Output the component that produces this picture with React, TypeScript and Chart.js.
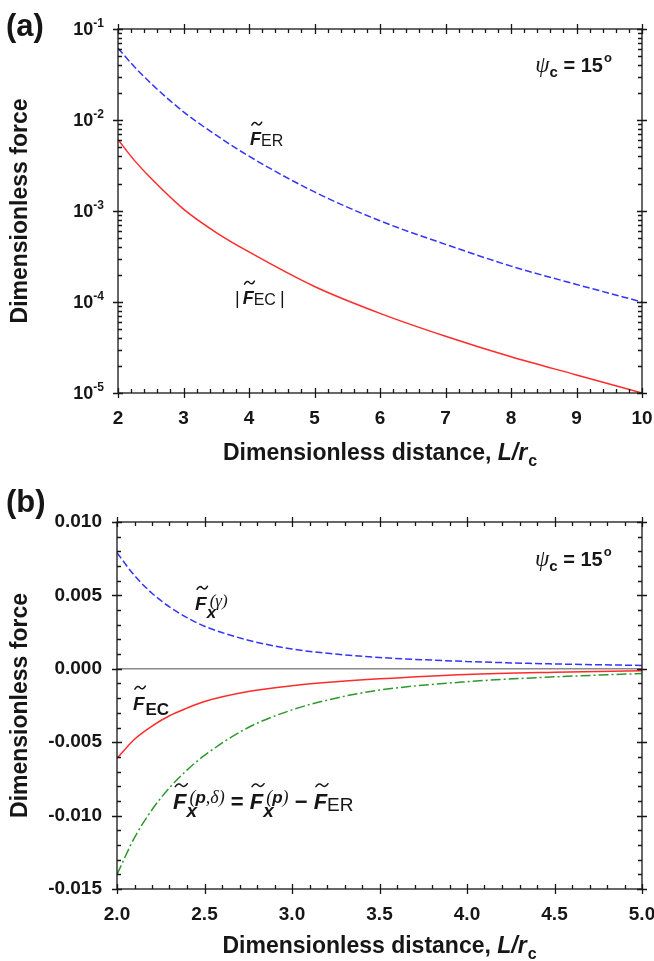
import React, { useEffect, useRef } from 'react';
import { Chart, registerables } from 'chart.js';

Chart.register(...registerables);

const SANS = '"Liberation Sans", Arial, Helvetica, sans-serif';
const SERIF = '"Liberation Serif", "Times New Roman", serif';
const INK = '#161616';
const BLUE = '#3434ff';
const RED = '#ff2b2b';
const GREEN = '#2e982e';
const GRAY = '#8a8a8a';

// ---------- Panel (a) data ----------
const distanceA = [2, 2.25, 2.5, 3, 3.5, 4, 5, 6, 7, 8, 9, 10];
const forceER_A = [0.0614, 0.0385, 0.0254, 0.0123, 0.0068, 0.004, 0.00162, 0.00078, 0.00043, 0.000248, 0.000156, 0.0001];
const forceEC_A = [0.0061, 0.0036, 0.0023, 0.00105, 0.00058, 0.000355, 0.000148, 0.000075, 0.000042, 0.000025, 0.0000158, 0.00001];
const xTicksA = [2, 3, 4, 5, 6, 7, 8, 9, 10];
const yTicksA = [1e-5, 1e-4, 1e-3, 1e-2, 1e-1];
const yTickExpA = ['-5', '-4', '-3', '-2', '-1'];

// ---------- Panel (b) data ----------
const distanceB = [2.0, 2.1, 2.2, 2.3, 2.4, 2.5, 2.75, 3.0, 3.25, 3.5, 4.0, 4.5, 5.0];
const forceGammaB = [0.0079, 0.00635, 0.00515, 0.00422, 0.00349, 0.0029, 0.00195, 0.00135, 0.001, 0.00077, 0.0005, 0.00033, 0.00023];
const forceEC_B = [-0.0061, -0.0048, -0.0039, -0.0032, -0.00268, -0.00223, -0.00155, -0.00115, -0.00088, -0.00068, -0.00038, -0.00023, -0.00013];
const forcePDelta_B = [-0.014, -0.0115, -0.0096, -0.0081, -0.0069, -0.0059, -0.004, -0.0028, -0.002, -0.00145, -0.00088, -0.00055, -0.00032];
const xTicksB = [2.0, 2.5, 3.0, 3.5, 4.0, 4.5, 5.0];
const yTicksB = [-0.015, -0.01, -0.005, 0, 0.005, 0.01];

type Run = {
  t: string;
  font: string;
  dy?: number;
  dx?: number;
  tilde?: boolean;
  mark?: boolean;
  back?: boolean;
  join?: boolean;
};

function drawTilde(ctx: CanvasRenderingContext2D, cx: number, cy: number, w: number) {
  ctx.save();
  ctx.lineWidth = 1.5;
  ctx.strokeStyle = INK;
  ctx.lineCap = 'round';
  ctx.beginPath();
  ctx.moveTo(cx - w / 2, cy + 1.5);
  ctx.quadraticCurveTo(cx - w / 4, cy - 3, cx, cy);
  ctx.quadraticCurveTo(cx + w / 4, cy + 3, cx + w / 2, cy - 1.5);
  ctx.stroke();
  ctx.restore();
}

function fontSize(font: string) {
  const m = font.match(/([\d.]+)px/);
  return m ? parseFloat(m[1]) : 16;
}

function layoutRuns(ctx: CanvasRenderingContext2D, runs: Run[], x: number, y: number, draw: boolean) {
  let cx = x;
  let markX = x;
  let endX = x;
  for (const r of runs) {
    if (r.back) {
      endX = cx;
      cx = markX;
    }
    if (r.mark) markX = cx;
    ctx.font = r.font;
    const sx = cx + (r.dx ?? 0);
    const w = ctx.measureText(r.t).width;
    if (draw) {
      ctx.fillText(r.t, sx, y + (r.dy ?? 0));
      if (r.tilde) {
        const s = fontSize(r.font);
        drawTilde(ctx, sx + w * 0.62, y + (r.dy ?? 0) - 0.716 * s - 8.5, s * 0.55);
      }
    }
    cx = sx + w;
    if (r.join) cx = Math.max(cx, endX);
  }
  return cx - x;
}

function drawRuns(ctx: CanvasRenderingContext2D, runs: Run[], x: number, y: number, align: 'left' | 'center' = 'left') {
  ctx.save();
  ctx.fillStyle = INK;
  ctx.textBaseline = 'alphabetic';
  ctx.textAlign = 'left';
  let sx = x;
  if (align === 'center') sx = x - layoutRuns(ctx, runs, 0, 0, false) / 2;
  layoutRuns(ctx, runs, sx, y, true);
  ctx.restore();
}

const FB = (s: number) => `italic bold ${s}px ${SANS}`;
const B = (s: number) => `bold ${s}px ${SANS}`;
const N = (s: number) => `${s}px ${SANS}`;
const SI = (s: number) => `italic ${s}px ${SERIF}`;

const psiRuns: Run[] = [
  { t: 'ψ', font: `italic 23px ${SERIF}` },
  { t: 'c', font: B(15), dy: 5, dx: 0 },
  { t: ' = 15', font: B(20) },
  { t: 'o', font: B(13), dy: -10, dx: 1 },
];

const xTitleRuns: Run[] = [
  { t: 'Dimensionless distance, ', font: B(23) },
  { t: 'L/r', font: FB(23) },
  { t: 'c', font: B(16), dy: 6, dx: 1 },
];

type Deco = {
  xMinorStep: number;
  xMin: number;
  xMax: number;
  yMinor: number[];
  yMajor: number[];
  xMajor: number[];
  panelLabel: string;
  panelLabelY: number;
  xTitleY: number;
  extra: (chart: any) => void;
};

function decoPlugin(d: Deco) {
  return {
    id: 'deco',
    afterDatasetsDraw(chart: any) {
      const { ctx, chartArea: ca, scales } = chart;
      const xs = scales.x;
      const ys = scales.y;
      ctx.save();
      ctx.strokeStyle = INK;
      ctx.lineWidth = 1.3;
      ctx.strokeRect(ca.left, ca.top, ca.right - ca.left, ca.bottom - ca.top);
      ctx.beginPath();
      const MO = 5, MI = 5, NI = 4;
      for (const v of d.xMajor) {
        const p = Math.round(xs.getPixelForValue(v)) + 0.5;
        ctx.moveTo(p, ca.bottom + MO);
        ctx.lineTo(p, ca.bottom - MI);
        ctx.moveTo(p, ca.top - MO);
        ctx.lineTo(p, ca.top + MI);
      }
      const n = Math.round((d.xMax - d.xMin) / d.xMinorStep);
      for (let i = 0; i <= n; i++) {
        const v = d.xMin + i * d.xMinorStep;
        if (d.xMajor.some((m) => Math.abs(m - v) < 1e-9)) continue;
        const p = Math.round(xs.getPixelForValue(v)) + 0.5;
        ctx.moveTo(p, ca.bottom);
        ctx.lineTo(p, ca.bottom - NI);
        ctx.moveTo(p, ca.top);
        ctx.lineTo(p, ca.top + NI);
      }
      for (const v of d.yMajor) {
        const p = Math.round(ys.getPixelForValue(v)) + 0.5;
        ctx.moveTo(ca.left - MO, p);
        ctx.lineTo(ca.left + MI, p);
        ctx.moveTo(ca.right - MI, p);
        ctx.lineTo(ca.right + MO, p);
      }
      for (const v of d.yMinor) {
        const p = Math.round(ys.getPixelForValue(v)) + 0.5;
        ctx.moveTo(ca.left, p);
        ctx.lineTo(ca.left + NI, p);
        ctx.moveTo(ca.right - NI, p);
        ctx.lineTo(ca.right, p);
      }
      ctx.stroke();

      // panel label
      ctx.fillStyle = INK;
      ctx.font = B(31);
      ctx.textAlign = 'left';
      ctx.textBaseline = 'middle';
      ctx.fillText(d.panelLabel, 6, d.panelLabelY);

      // y title
      ctx.save();
      ctx.translate(21, (ca.top + ca.bottom) / 2);
      ctx.rotate(-Math.PI / 2);
      ctx.font = B(23);
      ctx.textAlign = 'center';
      ctx.textBaseline = 'middle';
      ctx.fillText('Dimensionless force', 0, 0);
      ctx.restore();

      // x title
      drawRuns(ctx, xTitleRuns, (ca.left + ca.right) / 2, d.xTitleY, 'center');

      d.extra(chart);
      ctx.restore();
    },
  };
}

function yMinorLog() {
  const out: number[] = [];
  for (let e = -5; e <= -2; e++) for (let k = 2; k <= 9; k++) out.push(k * Math.pow(10, e));
  return out;
}

function yMinorLinear() {
  const out: number[] = [];
  for (let i = 0; i <= 25; i++) {
    if (i % 5 === 0) continue;
    out.push(-0.015 + i * 0.001);
  }
  return out;
}

const at = (chart: any, x: number, y: number) => [chart.scales.x.getPixelForValue(x), chart.scales.y.getPixelForValue(y)];

function extraA(chart: any) {
  const { ctx, scales } = chart;
  const ys = scales.y;
  const xs = scales.x;
  // log tick labels
  yTicksA.forEach((v, i) => {
    const py = ys.getPixelForValue(v);
    ctx.save();
    ctx.fillStyle = INK;
    ctx.textBaseline = 'middle';
    ctx.textAlign = 'left';
    ctx.font = B(12);
    const we = ctx.measureText(yTickExpA[i]).width;
    ctx.font = B(18);
    const wb = ctx.measureText('10').width;
    const right = xs.left - 14;
    ctx.fillText('10', right - we - wb, py + 1);
    ctx.font = B(12);
    ctx.fillText(yTickExpA[i], right - we, py - 5);
    ctx.restore();
  });
  let [px, py] = at(chart, 8.37, 0.0337);
  drawRuns(ctx, psiRuns, px, py);
  [px, py] = at(chart, 4.015, 0.0053);
  drawRuns(ctx, [
    { t: 'F', font: FB(18), tilde: true },
    { t: 'ER', font: N(16), dy: 1, dx: 0 },
  ], px, py);
  [px, py] = at(chart, 3.786, 0.000095);
  drawRuns(ctx, [
    { t: '|', font: N(18) },
    { t: 'F', font: FB(18), tilde: true, dx: 3 },
    { t: 'EC', font: N(16), dy: 1, dx: 0 },
    { t: '|', font: N(18), dx: 4 },
  ], px, py);
}

function extraB(chart: any) {
  const { ctx } = chart;
  let [px, py] = at(chart, 4.389, 0.007);
  drawRuns(ctx, psiRuns, px, py);
  [px, py] = at(chart, 2.446, 0.00401);
  drawRuns(ctx, [
    { t: 'F', font: FB(19), tilde: true },
    { t: 'x', font: FB(17), dy: 8, mark: true },
    { t: '(', font: SI(17), dy: -4, back: true, dx: 3 },
    { t: 'γ', font: SI(17), dy: -4 },
    { t: ')', font: SI(17), dy: -4, join: true },
  ], px, py);
  [px, py] = at(chart, 2.091, -0.00279);
  drawRuns(ctx, [
    { t: 'F', font: FB(19), tilde: true },
    { t: 'EC', font: B(17), dy: 5, dx: 1 },
  ], px, py);
  [px, py] = at(chart, 2.32, -0.00958);
  drawRuns(ctx, [
    { t: 'F', font: FB(22), tilde: true },
    { t: 'x', font: FB(19), dy: 8, mark: true },
    { t: '(', font: SI(18), dy: -6, back: true, dx: 3 },
    { t: 'p', font: FB(17), dy: -6 },
    { t: ',', font: SI(18), dy: -6 },
    { t: 'δ', font: SI(18), dy: -6 },
    { t: ')', font: SI(18), dy: -6, join: true },
    { t: ' = ', font: B(22) },
    { t: 'F', font: FB(22), tilde: true },
    { t: 'x', font: FB(19), dy: 8, mark: true },
    { t: '(', font: SI(18), dy: -6, back: true, dx: 3 },
    { t: 'p', font: FB(17), dy: -6 },
    { t: ')', font: SI(18), dy: -6, join: true },
    { t: ' − ', font: B(22) },
    { t: 'F', font: FB(22), tilde: true },
    { t: 'ER', font: N(19), dy: 2, dx: 0 },
  ], px, py);
}

const lineDs = (xs: number[], ys: number[], color: string, dash: number[]) => ({
  data: xs.map((x, i) => ({ x, y: ys[i] })),
  borderColor: color,
  borderWidth: 1.5,
  borderDash: dash,
  pointRadius: 0,
  fill: false,
  cubicInterpolationMode: 'monotone' as const,
});

const tickFont = { family: SANS, size: 19, weight: 'bold' as const };

function makeConfigA(): any {
  return {
    type: 'line',
    data: {
      datasets: [
        lineDs(distanceA, forceER_A, BLUE, [7, 3]),
        lineDs(distanceA, forceEC_A, RED, []),
      ],
    },
    options: {
      animation: false,
      responsive: false,
      maintainAspectRatio: false,
      events: [],
      layout: { padding: { top: 29, right: 12, left: 0, bottom: 0 } },
      plugins: { legend: { display: false }, tooltip: { enabled: false } },
      scales: {
        x: {
          type: 'linear',
          min: 2,
          max: 10,
          grid: { display: false, drawTicks: false },
          border: { display: false },
          afterBuildTicks: (s: any) => { s.ticks = xTicksA.map((v) => ({ value: v })); },
          ticks: { font: tickFont, color: INK, padding: 14, maxRotation: 0, autoSkip: false, callback: (v: any) => String(v) },
          afterFit: (s: any) => { s.height = 77; s.paddingLeft = 0; s.paddingRight = 0; },
        },
        y: {
          type: 'logarithmic',
          min: 1e-5,
          max: 1e-1,
          grid: { display: false, drawTicks: false },
          border: { display: false },
          ticks: { display: false },
          afterFit: (s: any) => { s.width = 118; s.paddingTop = 0; s.paddingBottom = 0; },
        },
      },
    },
    plugins: [decoPlugin({
      xMinorStep: 0.2, xMin: 2, xMax: 10,
      yMinor: yMinorLog(), yMajor: yTicksA, xMajor: xTicksA,
      panelLabel: '(a)', panelLabelY: 27, xTitleY: 460, extra: extraA,
    })],
  };
}

function makeConfigB(): any {
  return {
    type: 'line',
    data: {
      datasets: [
        lineDs(distanceB, forceGammaB, BLUE, [7, 3]),
        lineDs(distanceB, forceEC_B, RED, []),
        lineDs(distanceB, forcePDelta_B, GREEN, [10, 3, 2, 3]),
        {
          data: [{ x: xTicksB[0], y: 0 }, { x: xTicksB[xTicksB.length - 1], y: 0 }],
          borderColor: GRAY,
          borderWidth: 1.5,
          pointRadius: 0,
          fill: false,
        },
      ],
    },
    options: {
      animation: false,
      responsive: false,
      maintainAspectRatio: false,
      events: [],
      layout: { padding: { top: 52, right: 12, left: 0, bottom: 0 } },
      plugins: { legend: { display: false }, tooltip: { enabled: false } },
      scales: {
        x: {
          type: 'linear',
          min: 2,
          max: 5,
          grid: { display: false, drawTicks: false },
          border: { display: false },
          afterBuildTicks: (s: any) => { s.ticks = xTicksB.map((v) => ({ value: v })); },
          ticks: { font: tickFont, color: INK, padding: 14, maxRotation: 0, autoSkip: false, callback: (v: any) => Number(v).toFixed(1) },
          afterFit: (s: any) => { s.height = 72; s.paddingLeft = 0; s.paddingRight = 0; },
        },
        y: {
          type: 'linear',
          min: -0.015,
          max: 0.01,
          grid: { display: false, drawTicks: false },
          border: { display: false },
          afterBuildTicks: (s: any) => { s.ticks = yTicksB.map((v) => ({ value: v })); },
          ticks: { font: tickFont, color: INK, padding: 15, autoSkip: false, callback: (v: any) => Number(v).toFixed(3) },
          afterFit: (s: any) => { s.width = 117; s.paddingTop = 0; s.paddingBottom = 0; },
        },
      },
    },
    plugins: [decoPlugin({
      xMinorStep: 0.1, xMin: 2, xMax: 5,
      yMinor: yMinorLinear(), yMajor: yTicksB, xMajor: xTicksB,
      panelLabel: '(b)', panelLabelY: 33, xTitleY: 483, extra: extraB,
    })],
  };
}

function ChartCanvas({ make, top, height }: { make: () => any; top: number; height: number }) {
  const ref = useRef<HTMLCanvasElement | null>(null);
  useEffect(() => {
    if (!ref.current) return;
    const chart = new Chart(ref.current, make());
    return () => chart.destroy();
  }, [make]);
  return (
    <canvas
      ref={ref}
      width={654}
      height={height}
      style={{ position: 'absolute', left: 0, top, width: 654, height, display: 'block' }}
    />
  );
}

export default function App() {
  return (
    <div style={{ position: 'absolute', left: 0, top: 0, width: 654, height: 961, background: '#fff', overflow: 'hidden' }}>
      <ChartCanvas make={makeConfigA} top={0} height={470} />
      <ChartCanvas make={makeConfigB} top={470} height={491} />
    </div>
  );
}
